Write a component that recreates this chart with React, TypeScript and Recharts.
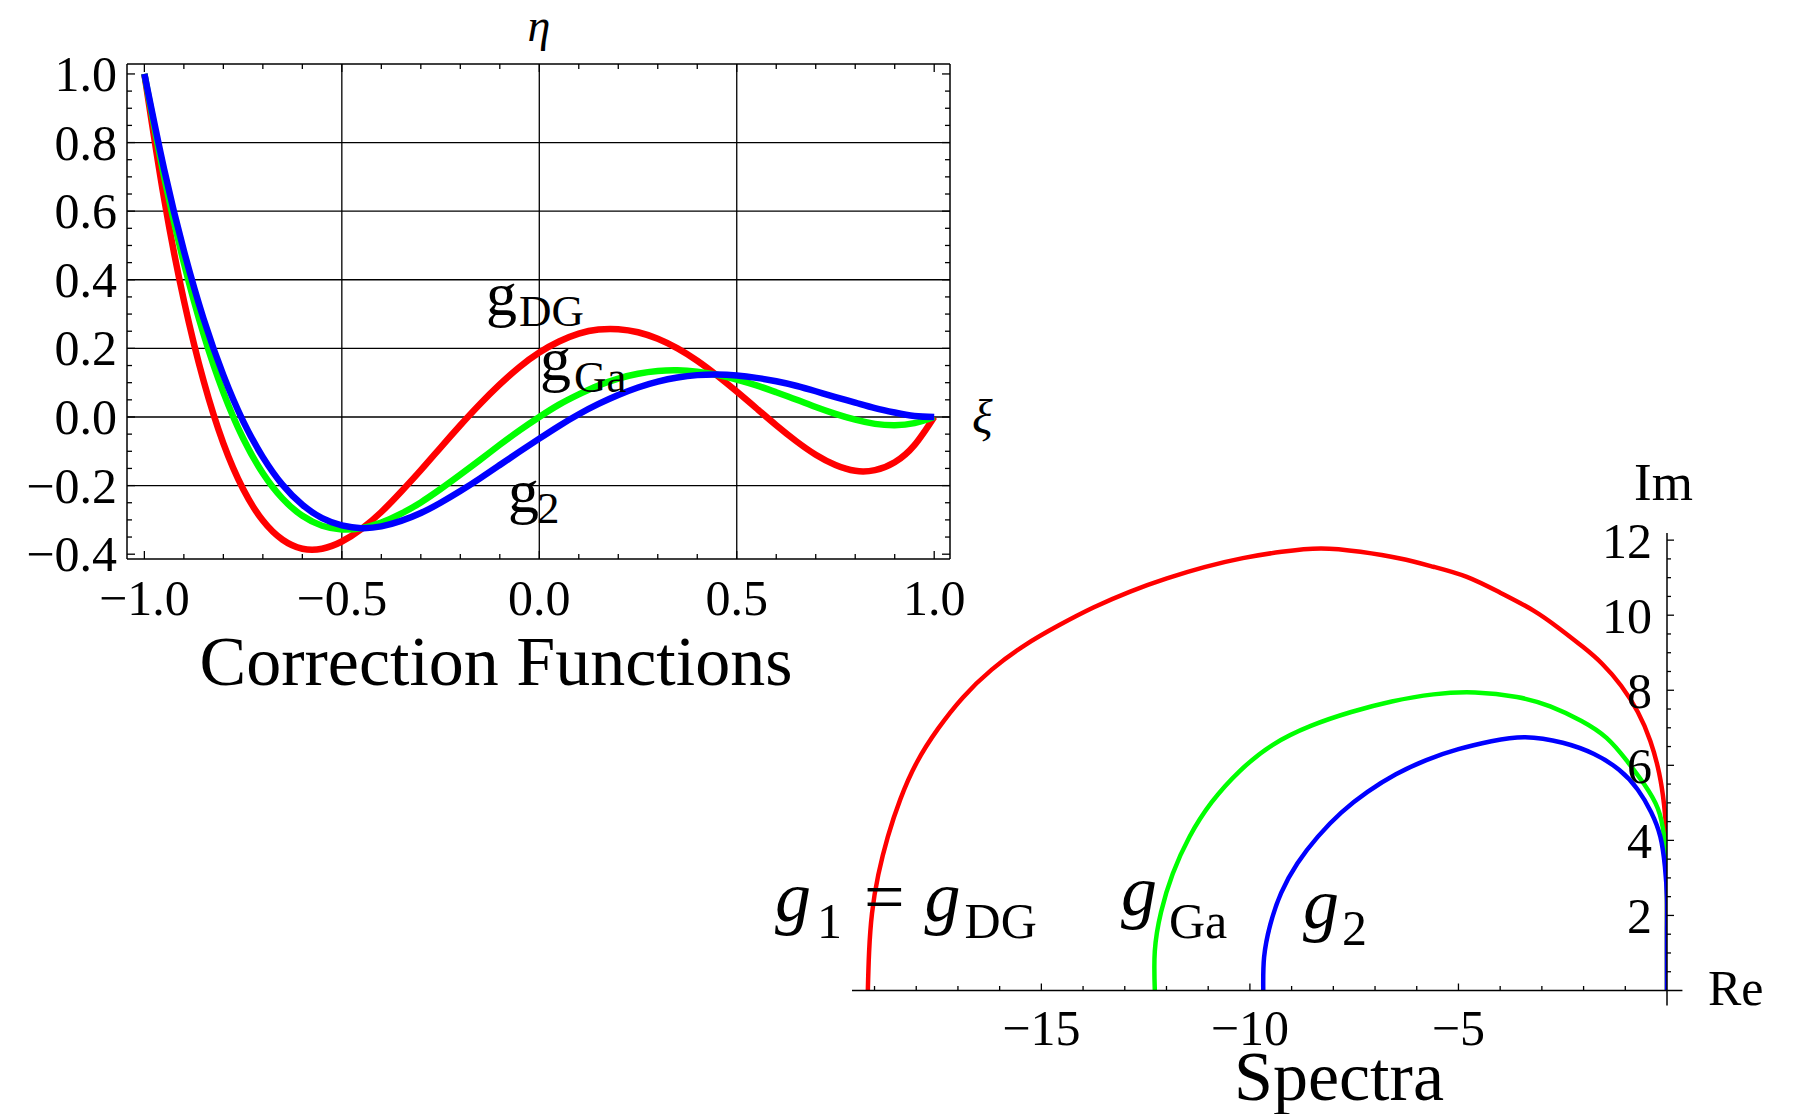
import React from "react";
import { LineChart, Line, XAxis, YAxis, CartesianGrid, ReferenceLine } from "recharts";

const W = 1793;
const H = 1114;
const FONT = '"Liberation Serif", "Times New Roman", serif';

// ---- correction functions (left panel) ----
const xi = [-1, -0.95, -0.9, -0.85, -0.8, -0.75, -0.7, -0.65, -0.6, -0.55, -0.5, -0.45, -0.4, -0.35, -0.3, -0.25, -0.2, -0.15, -0.1, -0.05, 0, 0.05, 0.1, 0.15, 0.2, 0.25, 0.3, 0.35, 0.4, 0.45, 0.5, 0.55, 0.6, 0.65, 0.7, 0.75, 0.8, 0.85, 0.9, 0.95, 1];
const gDG = [1.0, 0.636, 0.34, 0.105, -0.077, -0.21, -0.302, -0.358, -0.384, -0.384, -0.363, -0.326, -0.277, -0.218, -0.155, -0.089, -0.024, 0.038, 0.095, 0.146, 0.188, 0.22, 0.243, 0.255, 0.256, 0.247, 0.228, 0.2, 0.164, 0.121, 0.074, 0.025, -0.024, -0.07, -0.11, -0.14, -0.157, -0.155, -0.132, -0.082, 0];
const gGa = [1.0, 0.7, 0.449, 0.241, 0.072, -0.062, -0.164, -0.238, -0.288, -0.317, -0.328, -0.324, -0.308, -0.282, -0.249, -0.21, -0.168, -0.125, -0.081, -0.039, 0, 0.036, 0.066, 0.092, 0.112, 0.126, 0.134, 0.136, 0.132, 0.123, 0.109, 0.092, 0.072, 0.051, 0.029, 0.009, -0.008, -0.02, -0.024, -0.018, 0];
const g2 = [1.0, 0.722, 0.485, 0.286, 0.122, -0.012, -0.117, -0.198, -0.256, -0.295, -0.316, -0.324, -0.319, -0.303, -0.28, -0.25, -0.216, -0.179, -0.14, -0.101, -0.063, -0.026, 0.008, 0.038, 0.064, 0.086, 0.103, 0.115, 0.122, 0.124, 0.121, 0.114, 0.104, 0.091, 0.075, 0.058, 0.042, 0.026, 0.013, 0.003, 0];

const xiTicks = [-1, -0.9, -0.8, -0.7, -0.6, -0.5, -0.4, -0.3, -0.2, -0.1, 0, 0.1, 0.2, 0.3, 0.4, 0.5, 0.6, 0.7, 0.8, 0.9, 1];
const xiLabels = [-1, -0.5, 0, 0.5, 1];
const xiGrid = [-0.5, 0, 0.5];
const etaTicks = [-0.4, -0.35, -0.3, -0.25, -0.2, -0.15, -0.1, -0.05, 0, 0.05, 0.1, 0.15, 0.2, 0.25, 0.3, 0.35, 0.4, 0.45, 0.5, 0.55, 0.6, 0.65, 0.7, 0.75, 0.8, 0.85, 0.9, 0.95, 1];
const etaLabels = [-0.4, -0.2, 0, 0.2, 0.4, 0.6, 0.8, 1];
const etaGrid = [-0.2, 0, 0.2, 0.4, 0.6, 0.8];

// ---- spectra (right panel) ----
const reDG = [-19.16, -19.13, -19.06, -18.91, -18.68, -18.38, -17.99, -17.48, -16.88, -16.19, -15.41, -14.58, -13.74, -12.87, -11.99, -11.09, -10.17, -9.24, -8.3, -7.35, -6.4, -5.6, -4.8, -4.0, -3.21, -2.6, -2.01, -1.55, -1.1, -0.7, -0.4, -0.19, -0.07, -0.01, 0, 0, 0, 0, 0];
const imDG = [0, 1.03, 2.06, 3.08, 4.1, 5.1, 6.07, 6.97, 7.81, 8.55, 9.19, 9.73, 10.21, 10.63, 10.98, 11.28, 11.52, 11.69, 11.78, 11.69, 11.51, 11.29, 11.02, 10.6, 10.13, 9.66, 9.15, 8.7, 8.12, 7.42, 6.65, 5.8, 4.95, 4.1, 3.2, 2.4, 1.6, 0.8, 0];
const reGa = [-12.28, -12.28, -12.13, -11.85, -11.45, -10.92, -10.25, -9.46, -8.54, -7.57, -6.6, -5.6, -4.6, -3.6, -2.8, -2.05, -1.45, -0.97, -0.55, -0.22, -0.07, -0.01, 0, 0, 0, 0];
const imGa = [0, 1.05, 2.09, 3.11, 4.09, 5.01, 5.84, 6.54, 7.05, 7.42, 7.7, 7.89, 7.94, 7.82, 7.57, 7.18, 6.73, 6.13, 5.5, 4.85, 4.1, 3.2, 2.4, 1.6, 0.8, 0];
const reG2 = [-9.68, -9.66, -9.51, -9.25, -8.86, -8.37, -7.81, -7.18, -6.5, -5.77, -5.0, -4.21, -3.4, -2.5, -1.75, -1.15, -0.7, -0.38, -0.16, -0.05, 0, 0, 0, 0];
const imG2 = [0, 0.885, 1.76, 2.6, 3.39, 4.1, 4.74, 5.29, 5.76, 6.14, 6.43, 6.64, 6.75, 6.6, 6.3, 5.88, 5.35, 4.75, 4.1, 3.3, 2.45, 1.6, 0.8, 0];

const reTicks = [-19, -18, -17, -16, -15, -14, -13, -12, -11, -10, -9, -8, -7, -6, -5, -4, -3, -2, -1];
const reLabels = [-15, -10, -5];
const imTicks = [0.5, 1, 1.5, 2, 2.5, 3, 3.5, 4, 4.5, 5, 5.5, 6, 6.5, 7, 7.5, 8, 8.5, 9, 9.5, 10, 10.5, 11, 11.5, 12];
const imLabels = [2, 4, 6, 8, 10, 12];

const corrRows = xi.map((x, i) => ({ xi: x, gDG: gDG[i], gGa: gGa[i], g2: g2[i] }));
const specDG = reDG.map((r, i) => ({ re: r, im: imDG[i] }));
const specGa = reGa.map((r, i) => ({ re: r, im: imGa[i] }));
const specG2 = reG2.map((r, i) => ({ re: r, im: imG2[i] }));

const isIn = (v: number, list: number[]) => list.some((m) => Math.abs(m - v) < 1e-9);
const fmt = (v: number, d: number) => v.toFixed(d).replace("-", "\u2212");

const TICK = "#000";

function XiTick({ x, y, payload }: any) {
  const major = isIn(payload.value, xiLabels);
  return (
    <g>
      <line x1={x} y1={y} x2={x} y2={y - (major ? 8 : 5)} stroke={TICK} strokeWidth={1.3} />
      {major && (
        <text x={x} y={y + 56} textAnchor="middle" fontFamily={FONT} fontSize={50} fill="#000">
          {fmt(payload.value, 1)}
        </text>
      )}
    </g>
  );
}

function XiTopTick({ x, y, payload }: any) {
  const major = isIn(payload.value, xiLabels);
  return <line x1={x} y1={y} x2={x} y2={y + (major ? 8 : 5)} stroke={TICK} strokeWidth={1.3} />;
}

function EtaTick({ x, y, payload }: any) {
  const major = isIn(payload.value, etaLabels);
  return (
    <g>
      <line x1={x} y1={y} x2={x + (major ? 8 : 5)} y2={y} stroke={TICK} strokeWidth={1.3} />
      {major && (
        <text x={x - 10} y={y + 17} textAnchor="end" fontFamily={FONT} fontSize={50} fill="#000">
          {fmt(payload.value, 1)}
        </text>
      )}
    </g>
  );
}

function EtaRightTick({ x, y, payload }: any) {
  const major = isIn(payload.value, etaLabels);
  return <line x1={x} y1={y} x2={x - (major ? 8 : 5)} y2={y} stroke={TICK} strokeWidth={1.3} />;
}

function ReTick({ x, y, payload }: any) {
  const major = isIn(payload.value, reLabels);
  return (
    <g>
      <line x1={x} y1={y} x2={x} y2={y - (major ? 7 : 4.5)} stroke={TICK} strokeWidth={1.3} />
      {major && (
        <text x={x} y={y + 54.5} textAnchor="middle" fontFamily={FONT} fontSize={50} fill="#000">
          {fmt(payload.value, 0)}
        </text>
      )}
    </g>
  );
}

function ImTick({ x, y, payload }: any) {
  const major = isIn(payload.value, imLabels);
  return (
    <g>
      <line x1={x} y1={y} x2={x + (major ? 7 : 4)} y2={y} stroke={TICK} strokeWidth={1.3} />
      {major && (
        <text x={x - 15} y={y + 17.5} textAnchor="end" fontFamily={FONT} fontSize={50} fill="#000">
          {fmt(payload.value, 0)}
        </text>
      )}
    </g>
  );
}

const layer: React.CSSProperties = { position: "absolute", left: 0, top: 0, width: W, height: H };

function CorrectionPanel() {
  const xDomain = [-1.044, 1.04];
  const yDomain = [-0.414, 1.029];
  const frame = { stroke: "#000", strokeWidth: 1.5 };
  return (
    <LineChart width={W} height={H} data={corrRows} margin={{ top: 63, right: W - 951, bottom: H - 560, left: 126 }}>
      <CartesianGrid horizontalValues={etaGrid} verticalValues={xiGrid} stroke="#000" strokeWidth={1.3} fill="none" />
      <XAxis dataKey="xi" type="number" domain={xDomain} ticks={xiTicks} interval={0} height={1} tickSize={0} tickMargin={0} tickLine={false} axisLine={frame} tick={<XiTick />} allowDataOverflow />
      <XAxis xAxisId="top" orientation="top" dataKey="xi" type="number" domain={xDomain} ticks={xiTicks} interval={0} height={1} tickSize={0} tickMargin={0} tickLine={false} axisLine={frame} tick={<XiTopTick />} allowDataOverflow />
      <YAxis type="number" domain={yDomain} ticks={etaTicks} interval={0} width={1} tickSize={0} tickMargin={0} tickLine={false} axisLine={frame} tick={<EtaTick />} allowDataOverflow />
      <YAxis yAxisId="right" orientation="right" type="number" domain={yDomain} ticks={etaTicks} interval={0} width={1} tickSize={0} tickMargin={0} tickLine={false} axisLine={frame} tick={<EtaRightTick />} allowDataOverflow />
      <Line dataKey="gDG" type="natural" stroke="#ff0000" strokeWidth={6.5} dot={false} activeDot={false} isAnimationActive={false} />
      <Line dataKey="gGa" type="natural" stroke="#00ff00" strokeWidth={6.5} dot={false} activeDot={false} isAnimationActive={false} />
      <Line dataKey="g2" type="natural" stroke="#0000ff" strokeWidth={6.5} dot={false} activeDot={false} isAnimationActive={false} />
    </LineChart>
  );
}

function SpectraPanel() {
  const axis = { stroke: "#000", strokeWidth: 1.5 };
  return (
    <LineChart width={W} height={H} margin={{ top: 533, right: W - 1668, bottom: H - 991.5, left: 852 }}>
      <XAxis dataKey="re" type="number" domain={[-19.54, 0]} ticks={reTicks} interval={0} height={1} tickSize={0} tickMargin={0} tickLine={false} axisLine={axis} tick={<ReTick />} allowDataOverflow />
      <YAxis orientation="right" type="number" domain={[0, 12.19]} ticks={imTicks} interval={0} width={1} tickSize={0} tickMargin={0} tickLine={false} axisLine={axis} tick={<ImTick />} allowDataOverflow />
      <ReferenceLine segment={[{ x: 0, y: 0 }, { x: 0.37, y: 0 }]} stroke="#000" strokeWidth={1.5} ifOverflow="visible" />
      <ReferenceLine segment={[{ x: 0, y: -0.4 }, { x: 0, y: 0 }]} stroke="#000" strokeWidth={1.5} ifOverflow="visible" />
      <Line data={specDG} dataKey="im" type="natural" stroke="#ff0000" strokeWidth={4.5} dot={false} activeDot={false} isAnimationActive={false} />
      <Line data={specGa} dataKey="im" type="natural" stroke="#00ff00" strokeWidth={4.5} dot={false} activeDot={false} isAnimationActive={false} />
      <Line data={specG2} dataKey="im" type="natural" stroke="#0000ff" strokeWidth={4.5} dot={false} activeDot={false} isAnimationActive={false} />
    </LineChart>
  );
}

function Labels() {
  const t = { fontFamily: FONT, fill: "#000" };
  return (
    <svg width={W} height={H} style={{ ...layer, pointerEvents: "none" }}>
      {/* left panel */}
      <text {...t} x={539} y={41} textAnchor="middle" fontSize={46} fontStyle="italic">η</text>
      <text {...t} x={972} y={433} fontSize={48} fontStyle="italic">ξ</text>
      <text {...t} x={496} y={685} textAnchor="middle" fontSize={70}>Correction Functions</text>
      <text {...t} x={486} y={315} fontSize={62}>
        g<tspan fontSize={45} dx={2} dy={11}>DG</tspan>
      </text>
      <text {...t} x={540} y={380} fontSize={62}>
        g<tspan fontSize={45} dx={3} dy={11.5}>Ga</tspan>
      </text>
      <text {...t} x={508} y={511.5} fontSize={62}>
        g<tspan fontSize={45} dx={-2} dy={11.5}>2</tspan>
      </text>
      {/* right panel */}
      <text {...t} x={1663.5} y={500} textAnchor="middle" fontSize={53}>Im</text>
      <text {...t} x={1708} y={1005} fontSize={50}>Re</text>
      <text {...t} x={1339} y={1100} textAnchor="middle" fontSize={70}>Spectra</text>
      <text {...t} x={775} y={921} fontSize={72}>
        <tspan fontStyle="italic">g</tspan>
        <tspan fontSize={50} dx={6} dy={17}>1</tspan>
        <tspan dx={22} dy={-17}>=</tspan>
        <tspan fontStyle="italic" dx={20}>g</tspan>
        <tspan fontSize={50} dx={4} dy={17}>DG</tspan>
      </text>
      <text {...t} x={1121} y={915} fontSize={72}>
        <tspan fontStyle="italic">g</tspan>
        <tspan fontSize={50} dx={12} dy={23}>Ga</tspan>
      </text>
      <text {...t} x={1303} y={928} fontSize={72}>
        <tspan fontStyle="italic">g</tspan>
        <tspan fontSize={50} dx={3} dy={17}>2</tspan>
      </text>
    </svg>
  );
}

export default function App() {
  return (
    <div style={{ ...layer, background: "#fff", overflow: "hidden" }}>
      <div style={layer}>
        <CorrectionPanel />
      </div>
      <div style={layer}>
        <SpectraPanel />
      </div>
      <Labels />
    </div>
  );
}
